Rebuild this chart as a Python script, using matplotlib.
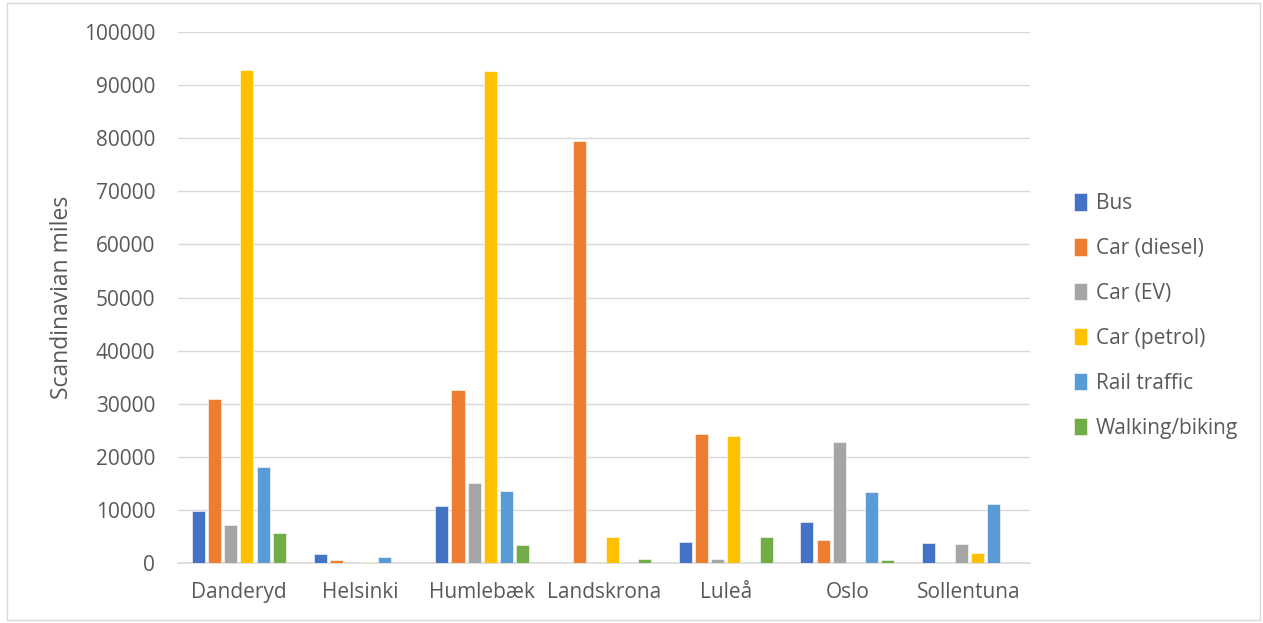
import matplotlib
matplotlib.use("Agg")
import matplotlib.pyplot as plt
import numpy as np
from matplotlib.patches import Rectangle

categories = ["Danderyd", "Helsinki", "Humlebæk", "Landskrona", "Luleå", "Oslo", "Sollentuna"]
series_names = ["Bus", "Car (diesel)", "Car (EV)", "Car (petrol)", "Rail traffic", "Walking/biking"]
bus = [9750, 1650, 10800, 0, 4000, 7800, 3700]
car_diesel = [30800, 600, 32500, 79500, 24300, 4400, 0]
car_ev = [7100, 0, 15100, 0, 750, 22700, 3500]
car_petrol = [92900, 250, 92600, 4900, 24000, 0, 1800]
rail = [18000, 1150, 13600, 0, 0, 13400, 11100]
walking = [5600, 0, 3400, 750, 4900, 550, 0]
yticks = [0, 10000, 20000, 30000, 40000, 50000, 60000, 70000, 80000, 90000, 100000]

series = [bus, car_diesel, car_ev, car_petrol, rail, walking]
colors = ["#4472C4", "#ED7D31", "#A5A5A5", "#FFC000", "#5B9BD5", "#70AD47"]

plt.rcParams['font.family'] = ['Open Sans', 'DejaVu Sans']
txt = "#595959"

fig = plt.figure(figsize=(12.63, 6.23), dpi=100)
ax = fig.add_axes([178/1263, 60/623, (1030-178)/1263, (563-32)/623])

x = np.arange(len(categories))
slot = 0.133
width = 0.107
for i, (vals, c, name) in enumerate(zip(series, colors, series_names)):
    offs = (i - 2.5) * slot
    ax.bar(x + offs, vals, width=width, color=c, label=name, edgecolor="white", linewidth=0.4, zorder=3)

ax.set_xlim(-0.5, len(categories) - 0.5)
ax.set_ylim(0, 100000)
ax.set_yticks(yticks)
ax.set_yticklabels([str(v) for v in yticks])
ax.set_xticks(x)
ax.set_xticklabels(categories)
ax.tick_params(axis='both', length=0, labelsize=15, colors=txt)
ax.tick_params(axis='y', pad=16.5)
ax.tick_params(axis='x', pad=14)
ax.grid(axis='y', color="#d9d9d9", linewidth=1, zorder=0)
for s in ["top", "right", "left"]:
    ax.spines[s].set_visible(False)
ax.spines["bottom"].set_color("#d9d9d9")
ax.spines["bottom"].set_linewidth(1.2)
ax.set_ylabel("Scandinavian miles", fontsize=16.5, color=txt, labelpad=7)

leg = ax.legend(loc="center left", bbox_to_anchor=(1030/1263 + 0.02, 1 - 316/623), bbox_transform=fig.transFigure,
                frameon=False, fontsize=15, labelspacing=1.15, handlelength=0.6, handleheight=0.9,
                handletextpad=0.45)
for t in leg.get_texts():
    t.set_color(txt)

fig.patches.append(Rectangle((7/1263, 3/623), 1253/1263, 617/623, transform=fig.transFigure,
                             fill=False, edgecolor="#d9d9d9", linewidth=1))

fig.savefig("out.png", dpi=100, facecolor="white")
